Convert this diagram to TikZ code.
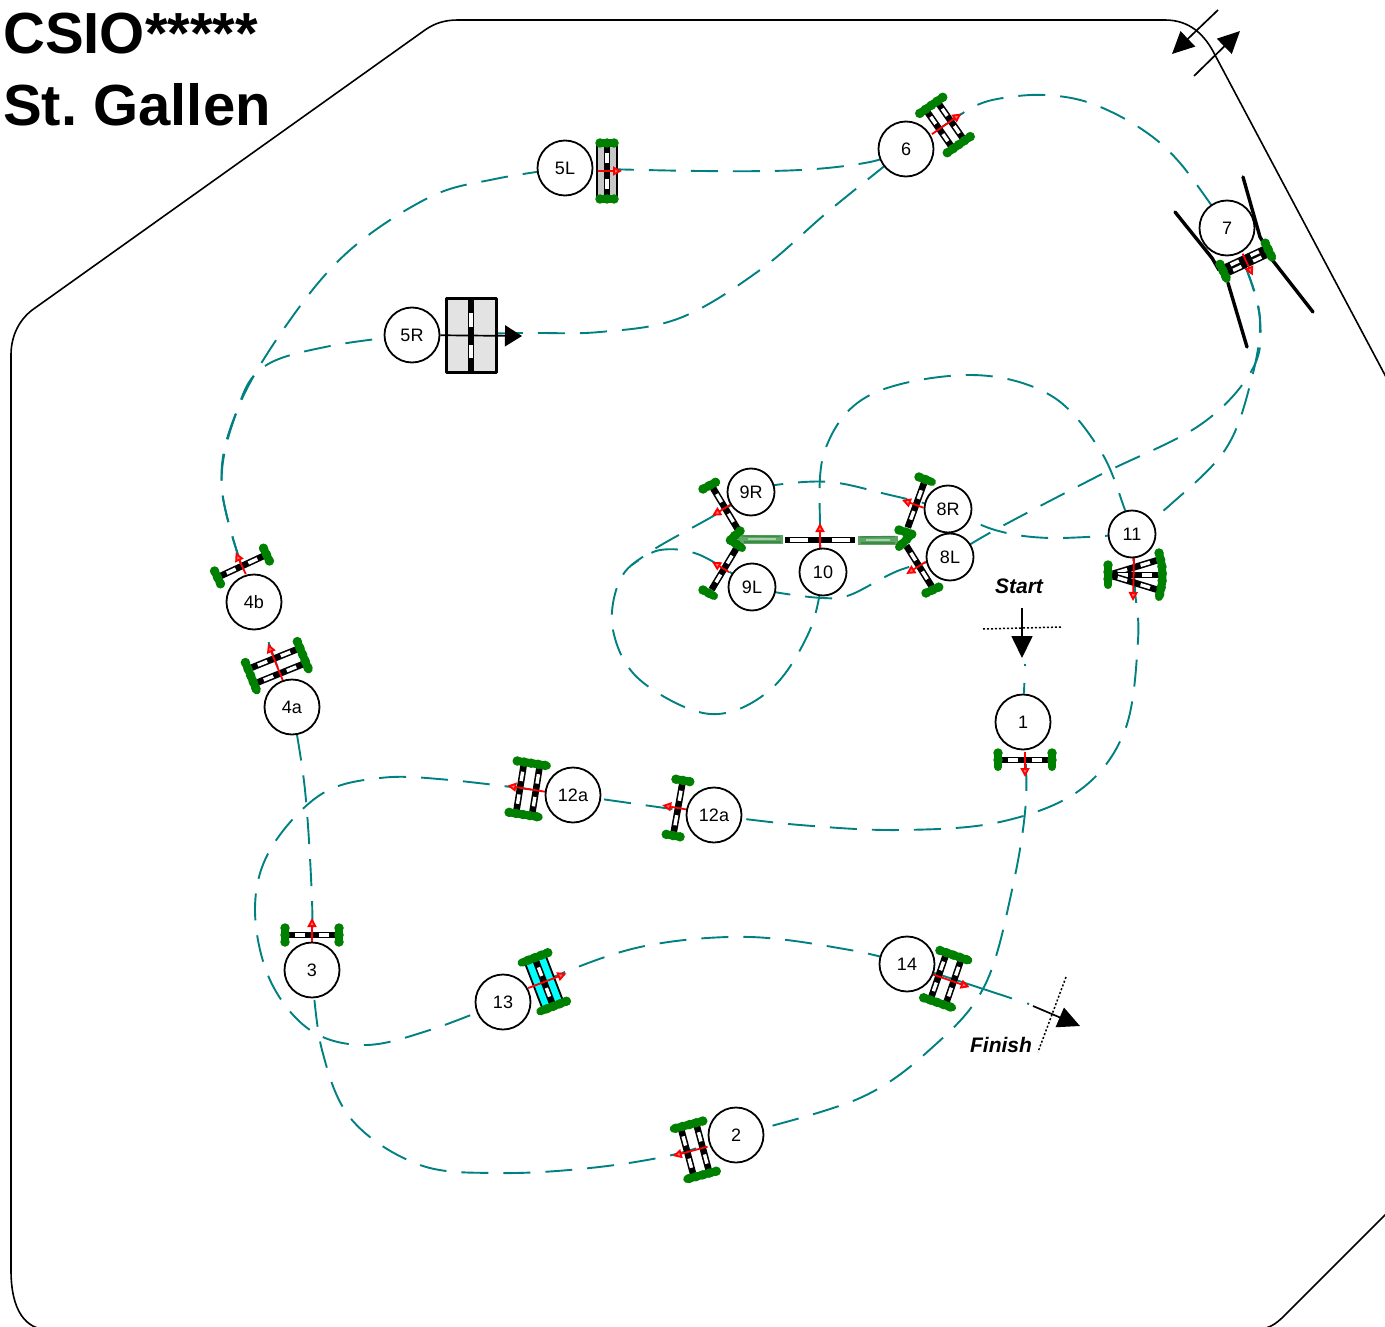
\documentclass[tikz,border=0pt]{standalone}
\usepackage{fontspec}
\setmainfont{Liberation Sans}
\usetikzlibrary{arrows.meta}
\pgfdeclarelayer{bg}
\pgfsetlayers{bg,main}
\definecolor{courseteal}{HTML}{008080}
\definecolor{hedgegreen}{HTML}{008000}
\definecolor{fencecyan}{HTML}{00FFFF}
\definecolor{washgreen}{HTML}{5FA565}
\definecolor{washdark}{HTML}{3B8A45}
\definecolor{washlight}{HTML}{A9CFAC}
\tikzset{
  bignum/.style={circle,draw=black,fill=white,line width=1.8pt,minimum size=55pt,inner sep=0pt,font=\fontsize{18}{20}\selectfont},
  smallnum/.style={bignum,minimum size=47pt},
  coursepath/.style={draw=courseteal,line width=1.9pt,dash pattern=on 27pt off 15pt},
  railblack/.style={draw=black,line width=6.6pt},
  railwhite/.style={draw=white,line width=3.4pt},
  blob/.style={draw=hedgegreen,line width=8pt,line cap=round,line join=round,
    postaction={draw=hedgegreen,line width=9.5pt,line cap=round,dash pattern=on 0pt off 7pt}},
  redarrow/.style={draw=red,line width=1.8pt,-{Triangle[length=9pt,width=9pt,fill=red!55!white]}},
  wing/.style={draw=black,line width=3.4pt,line cap=round,line join=round},
  blackarrow/.style={draw=black,line width=1.7pt,-{Triangle[length=22pt,width=21pt]}},
  timeline/.style={draw=black,line width=1.5pt,dash pattern=on 2pt off 2pt},
  markertext/.style={font=\fontsize{21}{24}\selectfont\bfseries\itshape,inner sep=0pt},
  titletext/.style={font=\fontsize{58}{60}\selectfont\bfseries,inner sep=0pt,anchor=base west},
  outline/.style={draw=black,line width=1.6pt},
  hedgewash/.style={draw=washgreen,line width=9pt},
  hedgeshade/.style={draw=washdark,line width=1.4pt},
  hedgeglow/.style={draw=washlight,line width=2pt}
}
\newcommand\railbar[2]{%
  \draw[railblack] (-#1,#2) -- (#1,#2);
  \draw[railwhite] ({-.65*#1},#2) -- ({-.27*#1},#2);
  \draw[railwhite] ({.27*#1},#2) -- ({.65*#1},#2);
}
\newcommand\blobs[2]{%
  \draw[blob] ({-#1-1},-#2) -- ({-#1-1},#2);
  \draw[blob] ({#1+1},-#2) -- ({#1+1},#2);
}
% x, y, angle, half length, offsets, blob half, arrow from, arrow to
\newcommand\fencepart[8]{%
  \begin{scope}[shift={(#1,#2)},rotate=#3]
    \foreach \o in {#5} {\railbar{#4}{\o}}
    \blobs{#4}{#6}
    \draw[redarrow] (0,#7) -- (0,#8);
  \end{scope}
}
% x, y, angle, half length, arrow from, arrow to : rail with no green of its own
\newcommand\barepart[6]{%
  \begin{scope}[shift={(#1,#2)},rotate=#3]
    \railbar{#4}{0}
    \draw[redarrow] (0,#5) -- (0,#6);
  \end{scope}
}
\newcommand\courseline[1]{\draw[coursepath] plot[smooth,tension=.6] coordinates {#1};}
\begin{document}
\begin{tikzpicture}[x=1pt,y=-1pt]
\useasboundingbox (0,0) rectangle (1385,1327);
\clip (0,0) rectangle (1385,1327);

% arena
\draw[outline] (1400,1200) -- (1285,1315) .. controls (1275,1325) and (1268,1330) .. (1250,1330)
  -- (50,1330) .. controls (25,1330) and (11,1310) .. (11,1270)
  -- (11,355) .. controls (11,335) and (20,318) .. (35,308)
  -- (425,30) .. controls (435,23) and (445,20) .. (458,20)
  -- (1165,20) .. controls (1190,20) and (1205,35) .. (1215,55) -- (1420,441);
\coordinate (tA) at (1218,10); \coordinate (tB) at (1172,54);
\coordinate (tC) at (1194,76); \coordinate (tD) at (1240,31);
\draw[blackarrow] (tA) -- (tB);
\draw[blackarrow] (tC) -- (tD);

% title
\node[titletext] (title1) at (3,54) {CSIO*****};
\node[titletext] (title2) at (3,126) {St.\ Gallen};

% wings of 7
\draw[wing] (1175,212) -- (1212,258) -- (1219,270);
\draw[wing] (1243,177) -- (1260,237) -- (1268,250);
\draw[wing] (1228,283) -- (1247,347);
\draw[wing] (1270,257) -- (1313,312);

% hedges at 10
\draw[hedgewash] (738,539) -- (783,539);
\draw[hedgeshade] (742,536) -- (780,536.5);
\draw[hedgeshade] (744,542) -- (781,542);
\draw[hedgeglow] (748,539) -- (776,539);
\draw[hedgewash] (858,540) -- (898,540);
\draw[hedgeshade] (860,537) -- (895,536.5);
\draw[hedgeshade] (861,543) -- (895,543);
\draw[hedgeglow] (866,540) -- (890,540);

% fences
\fencepart{1025}{760}{0}{26}{0}{7}{-8}{17}
\fencepart{695}{1150}{-75}{25}{-8,8}{15}{-13}{23}
\fencepart{312}{935}{0}{26}{0}{7}{10}{-17}
\fencepart{277}{666}{22}{27}{-8,8}{15}{17}{-24}
\fencepart{242}{566}{25}{26}{0}{7}{9}{-15}
\fencepart{945}{125}{-55}{23}{-7,7}{14}{16}{-20}
\fencepart{1246}{261}{25}{24}{-3,3}{8}{-8}{16}
\barepart{916}{505}{70}{24}{8}{-15}
\barepart{919}{566}{-58}{24}{-8}{15}
\barepart{725}{508}{-59}{25}{-6}{15}
\barepart{724}{569}{59}{24}{6}{-14}
\fencepart{528}{789}{81}{25}{-8,8}{15}{18}{-21}
\fencepart{678}{808}{80}{27}{0}{7}{10}{-16}
\fencepart{946}{979}{71}{24}{-8,8}{15}{-15}{25}

% green of fences 8 and 9
\draw[blob] (703,489) -- (716,482);
\draw[blob] (703,590) -- (714,596);
\draw[blob] (919,477) -- (932,482);
\draw[blob] (926,593) -- (939,587);
\draw[blob] (740,531) -- (730,540) -- (742,548);
\draw[blob] (899,530) -- (912,534) -- (899,547);

% fence 10
\begin{scope}[shift={(820,540)}]
  \draw[railblack] (-35,0) -- (35,0);
  \draw[railwhite] (-30,0) -- (-12,0);
  \draw[railwhite] (12,0) -- (30,0);
  \draw[redarrow] (0,8) -- (0,-17);
\end{scope}

% fence 5L
\begin{scope}[shift={(607,171)}]
  \draw[draw=black,fill=black!22,line width=1.6pt] (-10,-26) rectangle (10,26);
  \draw[railblack] (0,-26) -- (0,26);
  \draw[railwhite] (0,-18) -- (0,-8);
  \draw[railwhite] (0,8) -- (0,18);
  \draw[blob] (-7,-28) -- (7,-28);
  \draw[blob] (-7,28) -- (7,28);
  \draw[redarrow] (-9,0) -- (15,0);
\end{scope}

% fence 5R
\begin{scope}[shift={(471,335)}]
  \draw[draw=black,fill=black!11,line width=3pt,line join=round] (-25,-37) rectangle (25,37);
  \draw[railblack] (0,-37) -- (0,37);
  \draw[railwhite,line width=4.5pt] (0,-22) -- (0,-8);
  \draw[railwhite,line width=4.5pt] (0,10) -- (0,23);
\end{scope}

% fence 11
\begin{scope}[shift={(1109,575)}]
  \foreach \a in {17,0,-17} {
    \begin{scope}[rotate=\a,xshift=26pt]
      \railbar{26}{0}
    \end{scope}
  }
  \draw[blob] (-1,-10) -- (-1,10);
  \draw[blob] plot[smooth] coordinates {(50,-22) (53,-8) (53,8) (50,22)};
  \draw[redarrow] (25,-17) -- (24,26);
\end{scope}

% fence 13
\begin{scope}[shift={(544,982)},rotate=-69]
  \draw[draw=black,fill=fencecyan,line width=1.8pt] (-24,-11) rectangle (24,11);
  \railbar{24}{0}
  \draw[blob] (-26,-14) -- (-26,14);
  \draw[blob] (26,-14) -- (26,14);
  \draw[redarrow] (0,17) -- (0,-24);
\end{scope}

% numbers
\node[bignum] (n1) at (1023,722) {1};
\node[bignum] (n2) at (736,1135) {2};
\node[bignum] (n3) at (312,970) {3};
\node[bignum] (n4a) at (292,707) {4a};
\node[bignum] (n4b) at (254,602) {4b};
\node[bignum] (n5L) at (565,168) {5L};
\node[bignum] (n5R) at (412,335) {5R};
\node[bignum] (n6) at (906,149) {6};
\node[bignum] (n7) at (1227,228) {7};
\node[smallnum] (n8R) at (948,509) {8R};
\node[smallnum] (n8L) at (950,557) {8L};
\node[smallnum] (n9R) at (751,492) {9R};
\node[smallnum] (n9L) at (752,587) {9L};
\node[smallnum] (n10) at (823,572) {10};
\node[smallnum] (n11) at (1132,534) {11};
\node[bignum] (n12b) at (573,795) {12a};
\node[bignum] (n12a) at (714,815) {12a};
\node[bignum] (n13) at (503,1002) {13};
\node[bignum] (n14) at (907,964) {14};

% 5R arrow
\coordinate (r5end) at (522,336);
\draw[draw=black,line width=1.7pt,-{Triangle[length=17pt,width=21pt]}] (n5R) -- (r5end);

% start and finish
\node[markertext] (start) at (1019,586) {Start};
\node[markertext] (finish) at (1001,1045) {Finish};
\coordinate (s1) at (983,629); \coordinate (s2) at (1062,627);
\coordinate (s3) at (1022,608); \coordinate (s4) at (1022,658);
\draw[timeline] (s1) -- (s2);
\draw[blackarrow] (s3) -- (s4);
\coordinate (f1) at (1066,977); \coordinate (f2) at (1038,1052);
\coordinate (f3) at (1033,1006); \coordinate (f4) at (1080,1026);
\draw[timeline] (f1) -- (f2);
\draw[blackarrow] (f3) -- (f4);
\coordinate (courseStart) at (1025,664);
\coordinate (courseEnd) at (1029,1004);

% course
\begin{pgfonlayer}{bg}
\draw[coursepath,dash pattern=on 2pt off 17pt on 40pt off 10pt] (courseStart) -- (n1);
\courseline{(n1) (1026,800) (1012,890) (985,985) (935,1045) (860,1098) (n2)}
\courseline{(n2) (672,1155) (590,1168) (500,1173) (420,1165) (352,1120) (322,1050) (n3)}
\courseline{(n3) (312,900) (305,790) (n4a)}
\courseline{(n4a) (n4b)}
\courseline{(n4b) (222,490) (238,408) (265,366) (330,346) (n5R)}
\courseline{(n4b) (222,490) (238,408) (290,320) (350,250) (430,197) (495,179) (n5L)}
\courseline{(n5L) (700,171) (800,170) (870,162) (n6)}
\courseline{(n5R) (520,333) (600,332) (680,318) (760,270) (830,210) (n6)}
\courseline{(n6) (945,125) (975,106) (1003,98) (1045,95) (1090,103) (1140,128) (1180,163) (n7)}
\courseline{(n7) (1245,265) (1260,320) (1252,370) (1200,425) (1100,475) (995,530) (n8L)}
\courseline{(n7) (1245,265) (1260,320) (1250,385) (1225,450) (1170,505) (n11)}
\courseline{(n11) (1050,538) (995,530) (n8R)}
\courseline{(n8R) (890,495) (830,482) (775,485) (n9R)}
\courseline{(n8L) (900,570) (850,595) (823,598) (780,593) (n9L)}
\courseline{(n9R) (715,515) (650,552) (620,580) (613,630) (640,680) (710,714) (770,690) (810,630) (n10)}
\courseline{(n9L) (700,555) (660,550) (632,565)}
\courseline{(n10) (820,530) (825,450) (870,395) (970,375) (1050,395) (1100,450) (1125,510) (n11)}
\courseline{(n11) (1135,590) (1138,640) (1125,730) (1080,790) (1000,822) (900,830) (800,825) (n12a)}
\courseline{(n12a) (n12b)}
\courseline{(n12b) (450,780) (380,778) (320,795) (270,850) (255,910) (270,980) (310,1030) (365,1045) (430,1030) (n13)}
\courseline{(n13) (570,970) (650,945) (750,937) (850,950) (n14)}
\draw[coursepath,dash pattern=on 82pt off 16pt on 31pt off 10pt] (n14) -- (courseEnd);
\end{pgfonlayer}
\end{tikzpicture}
\end{document}
